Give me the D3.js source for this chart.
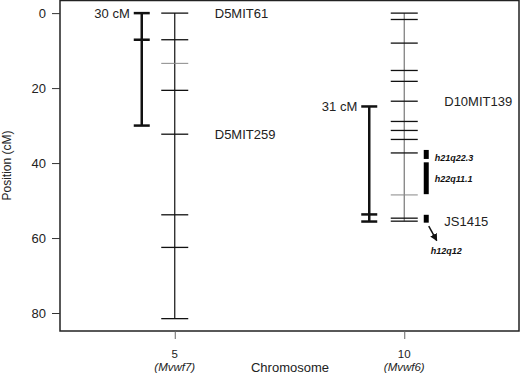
<!DOCTYPE html>
<html>
<head>
<meta charset="utf-8">
<script src="https://cdn.jsdelivr.net/npm/d3@7"></script>
<style>
  body { margin: 0; background: #fff; }
  text { font-family: "Liberation Sans", Arial, sans-serif; }
</style>
</head>
<body>
<div class="canvas_area"></div>
<script>
// DATA
const chromosomes = ["5", "10"];
const qtlNames = ["(Mvwf7)", "(Mvwf6)"];
const yTicks = [0, 20, 40, 60, 80];

const chr5Markers = [0, 7.1, 13.4, 20.6, 32.3, 53.8, 62.5, 81.5];
const chr5Faint = [13.4];
const chr10Markers = [0, 1.7, 8, 15.3, 18.2, 23.5, 28.9, 31.3, 33.7, 37.3, 48.5, 54.7, 55.5];
const chr10Faint = [48.5];

// confidence intervals
const intervals = [
  {chr: "5", start: 0, end: 30, inner: [7.1], label: "30 cM"},
  {chr: "10", start: 24.9, end: 55.6, inner: [53.7], label: "31 cM"}
];

// syntenic human blocks on chromosome 10
const humanBlocks = [
  {start: 36.5, end: 38.9, label: "h21q22.3", labelPos: 38.5},
  {start: 39.8, end: 48.3, label: "h22q11.1", labelPos: 44.2},
  {start: 53.8, end: 55.9, label: "h12q12", labelPos: 63.5}
];

const markerLabels = [
  {chr: "5", pos: 0, text: "D5MIT61"},
  {chr: "5", pos: 32.3, text: "D5MIT259"},
  {chr: "10", pos: 23.5, text: "D10MIT139"},
  {chr: "10", pos: 55.5, text: "JS1415"}
];

//SIZES
const svgwidth = 520, svgheight = 375;
const margin = {top: 0, right: 1, bottom: 44, left: 60};
const graphwidth = svgwidth - margin.left - margin.right;
const graphheight = svgheight - margin.top - margin.bottom;

const svg = d3.select(".canvas_area").append("svg")
  .attr("width", svgwidth)
  .attr("height", svgheight);

const graph = svg.append("g")
  .attr("transform", `translate(${margin.left}, ${margin.top})`);

// SCALES
const X = d3.scalePoint().domain(chromosomes).range([0, graphwidth]).padding(0.5);
const Y = d3.scaleLinear().domain([-3.5, 84.8]).range([0, graphheight]);

// BOX
graph.append("rect")
  .attr("x", 0).attr("y", 0.5)
  .attr("width", graphwidth).attr("height", graphheight - 0.5)
  .style("fill", "none").style("stroke", "#222").style("stroke-width", 1.5);

// AXIS
const yAxis = graph.append("g")
  .call(d3.axisLeft(Y).tickValues(yTicks).tickSize(8).tickPadding(6));
yAxis.select(".domain").remove();
yAxis.selectAll("text").style("font-size", "13px").style("fill", "#222");
yAxis.selectAll("line").style("stroke", "#333");

const xAxis = graph.append("g")
  .attr("transform", `translate(0, ${graphheight})`)
  .call(d3.axisBottom(X).tickSize(8).tickFormat(""));
xAxis.select(".domain").remove();
xAxis.selectAll("line").style("stroke", "#666");

chromosomes.forEach((c, i) => {
  const t = graph.append("text").attr("text-anchor", "middle")
    .style("font-size", "11.5px").style("fill", "#222");
  t.append("tspan").attr("x", X(c)).attr("y", graphheight + 27).text(c);
  t.append("tspan").attr("x", X(c)).attr("dy", 13).style("font-style", "italic").text(qtlNames[i]);
});

svg.append("text")
  .attr("x", 290).attr("y", 372)
  .attr("text-anchor", "middle").style("font-size", "13px").style("fill", "#222")
  .text("Chromosome");

svg.append("text")
  .attr("transform", `translate(11, ${graphheight / 2}) rotate(-90)`)
  .attr("text-anchor", "middle").style("font-size", "12px").style("fill", "#222")
  .text("Position (cM)");

// CHROMOSOMES
const drawChromosome = (chr, markers, faint, lineColor) => {
  const cx = X(chr);
  graph.append("line")
    .attr("x1", cx).attr("x2", cx)
    .attr("y1", Y(d3.min(markers))).attr("y2", Y(d3.max(markers)))
    .style("stroke", lineColor).style("stroke-width", 1.2);
  graph.selectAll(null).data(markers).enter().append("line")
    .attr("x1", cx - 13.5).attr("x2", cx + 13.5)
    .attr("y1", d => Y(d)).attr("y2", d => Y(d))
    .style("stroke", d => faint.includes(d) ? "#888" : "#111")
    .style("stroke-width", d => faint.includes(d) ? 1 : 1.3);
};
drawChromosome("5", chr5Markers, chr5Faint, "#111");
drawChromosome("10", chr10Markers, chr10Faint, "#777");

// CONFIDENCE INTERVALS
const ciOffset = {"5": -33, "10": -35};
intervals.forEach(d => {
  const cx = X(d.chr) + ciOffset[d.chr];
  const g = graph.append("g");
  g.append("line").attr("x1", cx).attr("x2", cx).attr("y1", Y(d.start)).attr("y2", Y(d.end))
    .style("stroke", "#111").style("stroke-width", 2.5);
  [d.start, d.end].concat(d.inner).forEach(v => {
    g.append("line").attr("x1", cx - 8).attr("x2", cx + 8).attr("y1", Y(v)).attr("y2", Y(v))
      .style("stroke", "#111").style("stroke-width", 2.5);
  });
  g.append("text").attr("x", cx - 12).attr("y", Y(d.start)).attr("dy", "0.35em")
    .attr("text-anchor", "end").style("font-size", "13px").style("fill", "#222").text(d.label);
});

// HUMAN BLOCKS
const bx = X("10") + 19.5;
graph.selectAll(null).data(humanBlocks).enter().append("rect")
  .attr("x", bx).attr("width", 5)
  .attr("y", d => Y(d.start)).attr("height", d => Y(d.end) - Y(d.start))
  .style("fill", "#000");
graph.selectAll(null).data(humanBlocks).enter().append("text")
  .attr("x", d => d.label === "h12q12" ? bx + 7 : bx + 11)
  .attr("y", d => Y(d.labelPos)).attr("dy", "0.35em")
  .style("font-size", "9px").style("font-weight", "bold").style("font-style", "italic")
  .style("fill", "#111").text(d => d.label);

// arrow to h12q12
svg.append("defs").append("marker")
  .attr("id", "arr").attr("viewBox", "0 0 10 10").attr("refX", 9).attr("refY", 5)
  .attr("markerWidth", 5).attr("markerHeight", 5).attr("orient", "auto")
  .append("path").attr("d", "M0,0L10,5L0,10z").style("fill", "#111");
graph.append("line")
  .attr("x1", bx + 5).attr("y1", Y(56.8))
  .attr("x2", bx + 13).attr("y2", Y(60.7))
  .style("stroke", "#111").style("stroke-width", 1.5)
  .attr("marker-end", "url(#arr)");

// MARKER LABELS
graph.selectAll(null).data(markerLabels).enter().append("text")
  .attr("x", d => X(d.chr) + 40)
  .attr("y", d => Y(d.pos)).attr("dy", "0.35em")
  .style("font-size", "13px").style("fill", "#222").text(d => d.text);
</script>
</body>
</html>
